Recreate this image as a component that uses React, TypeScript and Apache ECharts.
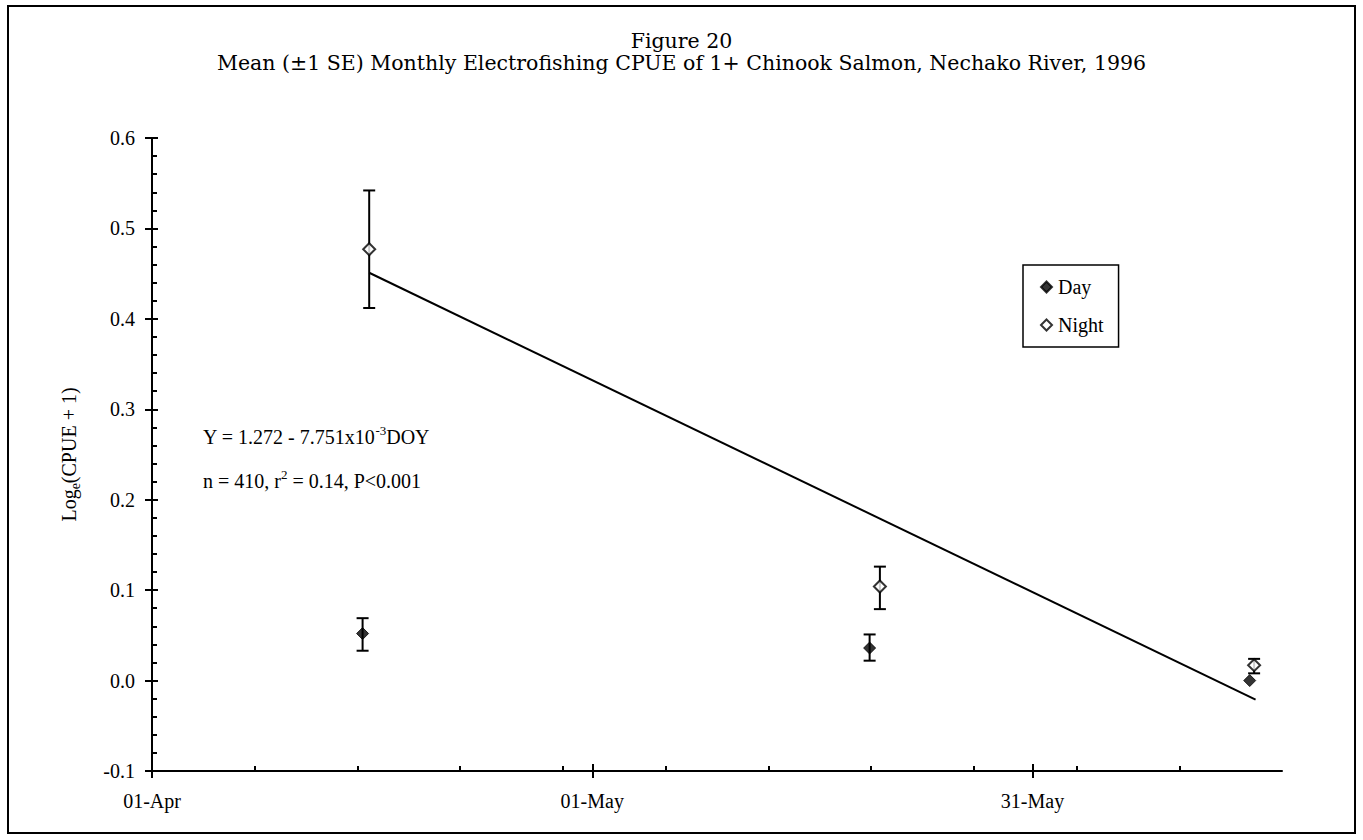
import { useEffect, useRef } from "react";
import * as echarts from "echarts";

// X axis: days after 01-Apr-1996
const majorTickDays = [0, 30, 60];
const majorTickLabels = ["01-Apr", "01-May", "31-May"];
const minorTickDays = [7, 14, 21, 28, 35, 42, 49, 56, 63, 70];

// Mean Log_e(CPUE + 1)
const dayPoints = [
  [14.35, 0.052],
  [48.9, 0.036],
  [74.8, 0.0],
];
const nightPoints = [
  [14.8, 0.477],
  [49.6, 0.104],
  [75.1, 0.017],
];
// [day, mean - 1 SE, mean + 1 SE]
const dayErrors = [
  [14.35, 0.033, 0.069],
  [48.9, 0.022, 0.051],
];
const nightErrors = [
  [14.8, 0.412, 0.542],
  [49.6, 0.079, 0.126],
  [75.1, 0.008, 0.024],
];
// Regression Y = 1.272 - 7.751e-3 DOY
const regressionLine = [
  [14.8, 0.451],
  [75.2, -0.021],
];

const SERIF = "'Liberation Serif', 'Times New Roman', serif";
const TITLE_FONT = "'DejaVu Serif', serif";

const errorRender = (params: any, api: any) => {
  const x = api.value(0);
  const lo = api.coord([x, api.value(1)]);
  const hi = api.coord([x, api.value(2)]);
  const w = 6;
  const style = { stroke: "#000", lineWidth: 2, fill: "none" };
  return {
    type: "group",
    children: [
      { type: "line", shape: { x1: lo[0], y1: lo[1], x2: hi[0], y2: hi[1] }, style },
      { type: "line", shape: { x1: lo[0] - w, y1: lo[1], x2: lo[0] + w, y2: lo[1] }, style },
      { type: "line", shape: { x1: hi[0] - w, y1: hi[1], x2: hi[0] + w, y2: hi[1] }, style },
    ],
  };
};

export default function App() {
  const ref = useRef<HTMLDivElement>(null);
  useEffect(() => {
    if (!ref.current) return;
    const chart = echarts.init(ref.current, null, { renderer: "svg" });
    const xBase = { type: "value", min: 0, max: 77, gridIndex: 0, splitLine: { show: false } };
    const yBase = { type: "value", min: -0.1, max: 0.6, interval: 0.1, splitLine: { show: false } };
    chart.setOption({
      animation: false,
      backgroundColor: "#fff",
      title: [
        {
          text: "Figure 20",
          left: "center",
          top: 25,
          textStyle: { fontFamily: TITLE_FONT, fontSize: 20.5, fontWeight: "normal", color: "#000" },
        },
        {
          text: "Mean (±1 SE) Monthly Electrofishing CPUE of 1+ Chinook Salmon, Nechako River, 1996",
          left: "center",
          top: 47,
          textStyle: { fontFamily: TITLE_FONT, fontSize: 20.5, fontWeight: "normal", color: "#000" },
        },
      ],
      grid: { left: 152, top: 138, right: 81, bottom: 69, containLabel: false },
      legend: {
        data: ["Day", "Night"],
        orient: "vertical",
        left: 1023,
        top: 265,
        icon: "diamond",
        itemWidth: 11,
        itemHeight: 11,
        itemGap: 18,
        padding: [12, 15, 12, 17],
        borderColor: "#000",
        borderWidth: 1.5,
        borderRadius: 0,
        backgroundColor: "#fff",
        selectedMode: false,
        textStyle: { fontFamily: SERIF, fontSize: 20, color: "#000", padding: [0, 0, 0, 1] },
      },
      xAxis: [
        {
          ...xBase,
          position: "bottom",
          axisLine: { onZero: false, lineStyle: { color: "#000", width: 2 } },
          axisTick: { show: true, inside: false, length: 7, customValues: majorTickDays, lineStyle: { color: "#000", width: 2 } },
          axisLabel: {
            customValues: majorTickDays,
            margin: 20,
            fontFamily: SERIF,
            fontSize: 20,
            color: "#000",
            formatter: (v: number) => {
              const i = majorTickDays.indexOf(Math.round(v));
              return i >= 0 ? majorTickLabels[i] : "";
            },
          },
        },
        {
          ...xBase,
          position: "bottom",
          axisLine: { show: false, onZero: false },
          axisTick: { show: true, inside: true, length: 7, customValues: majorTickDays, lineStyle: { color: "#000", width: 2 } },
          axisLabel: { show: false },
        },
        {
          ...xBase,
          position: "bottom",
          axisLine: { show: false, onZero: false },
          axisTick: { show: true, inside: true, length: 5, customValues: minorTickDays, lineStyle: { color: "#000", width: 2 } },
          axisLabel: { show: false },
        },
      ],
      yAxis: [
        {
          ...yBase,
          position: "left",
          axisLine: { onZero: false, lineStyle: { color: "#000", width: 2 } },
          axisTick: { show: true, inside: false, length: 7, lineStyle: { color: "#000", width: 2 } },
          axisLabel: {
            margin: 17,
            fontFamily: SERIF,
            fontSize: 20,
            color: "#000",
            formatter: (v: number) => v.toFixed(1),
          },
          name: "{a|Log}{b|e}{a|(CPUE + 1)}",
          nameLocation: "middle",
          nameRotate: 90,
          nameGap: 70,
          nameTextStyle: {
            fontFamily: SERIF,
            fontSize: 20,
            color: "#000",
            rich: {
              a: { fontFamily: SERIF, fontSize: 20, color: "#000", lineHeight: 26 },
              b: { fontFamily: SERIF, fontSize: 14, color: "#000", lineHeight: 14, verticalAlign: "bottom" },
            },
          },
        },
        {
          ...yBase,
          position: "left",
          axisLine: { show: false, onZero: false },
          axisTick: { show: true, inside: true, length: 6, lineStyle: { color: "#000", width: 2 } },
          minorTick: { show: true, splitNumber: 5, length: 5, lineStyle: { color: "#000", width: 2 } },
          axisLabel: { show: false },
        },
      ],
      graphic: [
        {
          type: "rect",
          shape: { x: 8, y: 6, width: 1347, height: 827 },
          style: { fill: "none", stroke: "#000", lineWidth: 2 },
          z: 100,
          silent: true,
        },
        {
          type: "text",
          x: 203,
          y: 437,
          style: {
            text: "{a|Y = 1.272 - 7.751x10}{s|-3}{a|DOY}",
            verticalAlign: "middle",
            rich: {
              a: { fontFamily: SERIF, fontSize: 20, fill: "#000", lineHeight: 26 },
              s: { fontFamily: SERIF, fontSize: 13, fill: "#000", lineHeight: 13, verticalAlign: "top" },
            },
          },
        },
        {
          type: "text",
          x: 203,
          y: 481,
          style: {
            text: "{a|n = 410, r}{s|2}{a| = 0.14, P<0.001}",
            verticalAlign: "middle",
            rich: {
              a: { fontFamily: SERIF, fontSize: 20, fill: "#000", lineHeight: 26 },
              s: { fontFamily: SERIF, fontSize: 13, fill: "#000", lineHeight: 13, verticalAlign: "top" },
            },
          },
        },
      ],
      series: [
        {
          type: "line",
          name: "regression",
          data: regressionLine,
          xAxisIndex: 0,
          yAxisIndex: 0,
          symbol: "none",
          lineStyle: { color: "#000", width: 2 },
          z: 2,
        },
        {
          type: "custom",
          name: "dayErr",
          data: dayErrors,
          xAxisIndex: 0,
          yAxisIndex: 0,
          renderItem: errorRender,
          encode: { x: 0, y: [1, 2] },
          z: 3,
        },
        {
          type: "custom",
          name: "nightErr",
          data: nightErrors,
          xAxisIndex: 0,
          yAxisIndex: 0,
          renderItem: errorRender,
          encode: { x: 0, y: [1, 2] },
          z: 3,
        },
        {
          type: "scatter",
          name: "Day",
          data: dayPoints,
          xAxisIndex: 0,
          yAxisIndex: 0,
          symbol: "diamond",
          symbolSize: 12,
          itemStyle: { color: "#000", borderColor: "#000", borderWidth: 1 },
          z: 5,
        },
        {
          type: "scatter",
          name: "Night",
          data: nightPoints,
          xAxisIndex: 0,
          yAxisIndex: 0,
          symbol: "diamond",
          symbolSize: 12,
          itemStyle: { color: "#fff", borderColor: "#000", borderWidth: 2 },
          z: 5,
        },
      ],
    });
    return () => chart.dispose();
  }, []);
  return (
    <div
      ref={ref}
      style={{ position: "absolute", left: 0, top: 0, width: 1363, height: 840 }}
    />
  );
}
